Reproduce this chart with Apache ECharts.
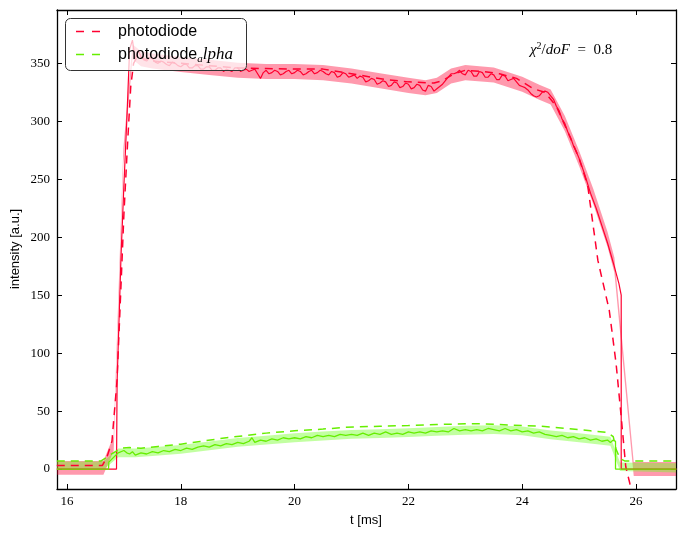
<!DOCTYPE html>
<html><head><meta charset="utf-8">
<script src="https://cdn.jsdelivr.net/npm/echarts@6/dist/echarts.min.js"></script>
<style>html,body{margin:0;padding:0;background:#fff}#c{width:686px;height:538px}</style>
</head><body><div id="c"></div>
<script>
// ---------- data ----------
const xTicks = [16, 18, 20, 22, 24, 26];
const yTicks = [0, 50, 100, 150, 200, 250, 300, 350];

// red measured signal
const tRed = [15.82,16.87,16.88,16.95,17.0,17.05,17.1,17.15,17.2,17.25,
17.30,17.35,17.40,17.45,17.50,17.55,17.60,17.65,17.70,17.75,17.80,17.85,17.90,17.95,
18.00,18.05,18.10,18.15,18.20,18.25,18.30,18.35,18.40,18.45,18.50,18.55,18.60,18.65,18.70,18.75,18.80,18.85,18.90,18.95,
19.00,19.05,19.10,19.15,19.20,19.25,19.30,19.35,19.40,19.45,19.50,19.55,19.60,19.65,19.70,19.75,19.80,19.85,19.90,19.95,
20.00,20.05,20.10,20.15,20.20,20.25,20.30,20.35,20.40,20.45,20.50,20.55,20.60,20.65,20.70,20.75,20.80,20.85,20.90,20.95,
21.00,21.05,21.10,21.15,21.20,21.25,21.30,21.35,21.40,21.45,21.50,21.55,21.60,21.65,21.70,21.75,21.80,21.85,21.90,21.95,
22.00,22.05,22.10,22.15,22.20,22.25,22.30,22.35,22.40,22.45,22.50,22.55,22.60,22.65,22.70,22.75,22.80,22.85,22.90,22.95,
23.00,23.05,23.10,23.15,23.20,23.25,23.30,23.35,23.40,23.45,23.50,23.55,23.60,23.65,23.70,23.75,23.80,23.85,23.90,23.95,
24.00,24.05,24.10,24.15,24.20,24.25,24.30,24.35,24.40,24.45,24.50,24.55,24.60,24.65,24.70,24.75,24.80,24.85,24.90,24.95,
25.0,25.1,25.2,25.3,25.4,25.5,25.6,25.7,25.74,25.74,26.71];
const redData = [0,0,75,185,245,300,362,370,353,361,
356,353,352,355,354,351,350,352,351,349,348,351,350,348,
347,349,349,346,346,348,348,345,345,347,347,344,344,346,346,343,345,344,343,346,
346,343,344,345,343,344,345,341,337,342,344,341,342,344,343,340,341,343,344,341,
342,344,343,340,341,343,344,341,342,344,343,341,340,343,342,338,339,342,341,338,
339,340,337,339,338,334,335,337,336,332,333,335,334,330,331,334,333,329,330,333,
332,328,329,332,331,327,326,331,330,326,328,330,332,335,338,341,341,342,344,341,
340,344,343,339,339,343,342,338,338,341,340,336,336,340,339,335,336,337,334,331,
330,329,327,324,322,321,322,325,326,325,322,319,313,309,302,298,291,286,279,274,
268,254,238,225,210,195,178,160,150,0,0];

// red model (dashed)
const tRedModel = [15.82,16.62,16.7,16.79,16.88,16.95,17.0,17.06,17.12,17.17,17.25,17.35,17.5,18.0,18.5,19.0,19.5,20.0,20.5,21.0,21.3,21.6,22.0,22.45,22.6,22.8,23.0,23.3,23.6,23.9,24.2,24.4,24.6,24.8,25.0,25.15,25.33,25.53,25.65,25.74,25.82,25.89,25.95,26.0];
const redModel = [3,3,10,24,77,160,220,277,330,350,357,354,352,350,348,346,345.5,345,345,341,338.5,336,334,333,335,341,344,343,341,337,328,325,313,291,268,245,180,137,91,45,2,-12,-30,-50];

// red uncertainty band
const tRedBand = [15.82,16.64,16.82,16.99,17.15,17.3,17.5,18.0,18.5,19.0,19.5,20.0,20.5,21.0,21.5,22.0,22.3,22.5,22.75,23.0,23.5,24.0,24.3,24.5,24.75,25.0,25.25,25.5,25.62,25.96,26.71];
const redBandMid = [1,1,22,270,360,354,352,349,346.5,344,343,343,342,339,335,331,329,331,339,342,340,332,325,321,298,268,235,198,176,0,0];
const redBandHalf = [6,6,6.5,6.5,6.5,6.5,6.5,6.5,6.5,6.5,6.5,6.5,6.5,6.5,6.5,6.5,6.5,6.5,6.5,6.5,6.5,6.5,6.5,6.5,6.5,6.5,6.5,6.5,6.5,6,6];

// green measured signal
const tGreen = [15.82,16.73,16.735,16.9,17.0,17.05,17.1,17.15,17.2,17.3,17.4,17.5,17.6,17.7,17.8,17.9,18.0,18.1,18.2,18.3,18.4,18.5,18.6,18.7,18.8,18.9,19.0,19.1,19.2,19.25,19.3,19.4,19.5,19.6,19.7,19.8,19.9,20.0,20.1,20.2,20.3,20.4,20.5,20.6,20.7,20.8,20.9,21.0,21.1,21.2,21.3,21.4,21.5,21.6,21.7,21.8,21.9,22.0,22.1,22.2,22.3,22.4,22.5,22.6,22.7,22.8,22.9,23.0,23.1,23.2,23.3,23.4,23.5,23.6,23.7,23.8,23.9,24.0,24.1,24.2,24.3,24.4,24.5,24.6,24.7,24.8,24.9,25.0,25.1,25.2,25.3,25.4,25.5,25.55,25.6,25.64,25.64,26.71];
const greenData = [0,0,6,14,16,14,13,15,12,14,13,15,14,16,15,17,16,18,17,19,20,19,21,20,22,21,23,22,24,27,23,25,24,26,25,27,26,27,26,28,27,29,28,29,28,30,29,30,29,31,29,31,30,32,30,31,30,32,31,32,31,33,32,33,32,35,33,34,33,34,33,35,34,33,35,33,34,32,33,31,32,30,29,28,29,27,28,26,27,25,26,24,25,23,25,24,0,0];

// green model (dashed)
const tGreenModel = [15.82,16.6,16.75,16.95,17.1,17.3,17.6,18.0,18.34,18.8,19.5,20.0,20.5,20.9,21.5,22.0,22.5,23.0,23.3,23.8,24.3,24.8,25.2,25.5,25.6,25.65,25.72,25.8,26.71];
const greenModel = [7,7,12,18,18.5,18,19.5,21.5,23.8,27,31,33,34.5,36,37,37.5,38.5,39,39,38,37,35,33,31.5,28,17,9,7,7];

// green uncertainty band
const tGreenBand = [15.82,16.64,16.9,17.2,17.5,18.0,18.5,19.0,19.5,20.0,20.5,21.0,21.5,22.0,22.5,23.0,23.5,24.0,24.5,25.0,25.55,25.72,26.71];
const greenBandMid = [3,3,14,14,15,17,20,23,25,27,28.5,30,30.5,31.5,32.5,33.5,34,33,29.5,27,24,2,1];
const greenBandHalf = [3.6,3.6,3.8,3.8,3.8,3.8,3.8,3.8,3.8,3.8,3.8,3.8,3.8,3.8,3.8,3.8,3.8,3.8,3.8,3.8,3.8,3.6,4];

// ---------- chart ----------
const RED = '#ff0030', GREEN = '#66ee00';
const pairs = (t, v) => t.map((x, i) => [x, v[i]]);

function band(t, mid, half, color) {
  return {
    type: 'custom', coordinateSystem: 'cartesian2d', silent: true, z: 1,
    xAxisIndex: 0, yAxisIndex: 0, clip: true,
    data: pairs(t, mid),
    encode: { x: 0, y: 1 },
    renderItem: function (params, api) {
      if (params.dataIndex !== 0) return null;
      const pts = [];
      for (let i = 0; i < t.length; i++) pts.push(api.coord([t[i], mid[i] + half[i]]));
      for (let i = t.length - 1; i >= 0; i--) pts.push(api.coord([t[i], mid[i] - half[i]]));
      return { type: 'polygon', shape: { points: pts }, style: { fill: color } };
    }
  };
}
function line(t, v, color, dashed, width) {
  return {
    type: 'line', data: pairs(t, v), symbol: 'none', silent: true, clip: true, z: 3,
    lineStyle: { color: color, width: width, type: dashed ? [8, 6] : 'solid' }
  };
}

const serif = 'Liberation Serif';
const axisCommon = (pos) => ({
  type: 'value', position: pos,
  axisLine: { show: true, onZero: false, lineStyle: { color: '#000', width: 1.3 } },
  axisTick: { show: true, inside: true, length: 5, lineStyle: { color: '#000', width: 1 } },
  splitLine: { show: false },
});

const chart = echarts.init(document.getElementById('c'), null, { renderer: 'canvas' });
chart.setOption({
  animation: false,
  grid: { left: 57, top: 10, width: 619, height: 479, containLabel: false },
  xAxis: [
    Object.assign(axisCommon('bottom'), {
      min: 15.824, max: 26.703, splitNumber: 5,
      axisLabel: { show: true, margin: 6, color: '#000', fontFamily: serif, fontSize: 13,
        showMinLabel: false, showMaxLabel: false,
        formatter: v => xTicks.includes(Math.round(v * 1000) / 1000) ? String(Math.round(v)) : '' }
    }),
    Object.assign(axisCommon('top'), {
      min: 15.824, max: 26.703, splitNumber: 5, axisLabel: { show: false }
    })
  ],
  yAxis: [
    Object.assign(axisCommon('left'), {
      min: -17.2, max: 396, splitNumber: 8,
      axisLabel: { show: true, margin: 7, color: '#000', fontFamily: serif, fontSize: 13,
        showMinLabel: false, showMaxLabel: false,
        formatter: v => yTicks.includes(Math.round(v * 1000) / 1000) ? String(Math.round(v)) : '' }
    }),
    Object.assign(axisCommon('right'), {
      min: -17.2, max: 396, splitNumber: 8, axisLabel: { show: false }
    })
  ],
  series: [
    band(tRedBand, redBandMid, redBandHalf, 'rgba(255,0,50,0.4)'),
    band(tGreenBand, greenBandMid, greenBandHalf, 'rgba(110,255,30,0.42)'),
    line(tRed, redData, RED, false, 1.2),
    line(tRedModel, redModel, RED, true, 1.5),
    line(tGreen, greenData, GREEN, false, 1.3),
    line(tGreenModel, greenModel, GREEN, true, 1.5)
  ],
  graphic: [
    { type: 'rect', z: 100, shape: { x: 65.5, y: 18.5, width: 181, height: 52, r: 5 },
      style: { fill: 'rgba(255,255,255,0.72)', stroke: '#333', lineWidth: 1 } },
    { type: 'line', z: 101, shape: { x1: 76, y1: 31.5, x2: 100, y2: 31.5 },
      style: { stroke: RED, lineWidth: 1.5, lineDash: [8, 8] } },
    { type: 'line', z: 101, shape: { x1: 76, y1: 54.5, x2: 100, y2: 54.5 },
      style: { stroke: GREEN, lineWidth: 1.5, lineDash: [8, 8] } },
    { type: 'text', z: 101, x: 118, y: 31.5,
      style: { text: 'photodiode', font: '16px "Liberation Sans"', fill: '#000', verticalAlign: 'middle' } },
    { type: 'text', z: 101, x: 118, y: 54.5,
      style: { text: 'photodiode{sub|a}{it|lpha}', font: '16px "Liberation Sans"', fill: '#000',
        verticalAlign: 'middle', lineHeight: 20,
        rich: {
          sub: { fontSize: 11, fontFamily: serif, fontStyle: 'italic', lineHeight: 11, verticalAlign: 'bottom', fill: '#000' },
          it: { fontSize: 17, fontFamily: serif, fontStyle: 'italic', lineHeight: 20, fill: '#000' }
        } } },
    { type: 'text', z: 101, x: 530, y: 50.5,
      style: { text: '{it|χ}{sup|2}{n|/}{it|doF}{n|  =  0.8}', font: '15px "Liberation Serif"', fill: '#000',
        verticalAlign: 'middle', lineHeight: 18,
        rich: {
          it: { fontStyle: 'italic', fontSize: 15, fontFamily: serif, lineHeight: 18 },
          sup: { fontSize: 10, fontFamily: serif, lineHeight: 10, verticalAlign: 'top' },
          n: { fontSize: 15, fontFamily: serif, lineHeight: 18 }
        } } },
    { type: 'text', z: 101, x: 366, y: 520,
      style: { text: 't [ms]', font: '13px "Liberation Sans"', fill: '#000', align: 'center', verticalAlign: 'middle' } },
    { type: 'text', z: 101, x: 15, y: 249, rotation: Math.PI / 2,
      style: { text: 'intensity [a.u.]', font: '13px "Liberation Sans"', fill: '#000', align: 'center', verticalAlign: 'middle' } }
  ]
});
</script>
</body></html>
